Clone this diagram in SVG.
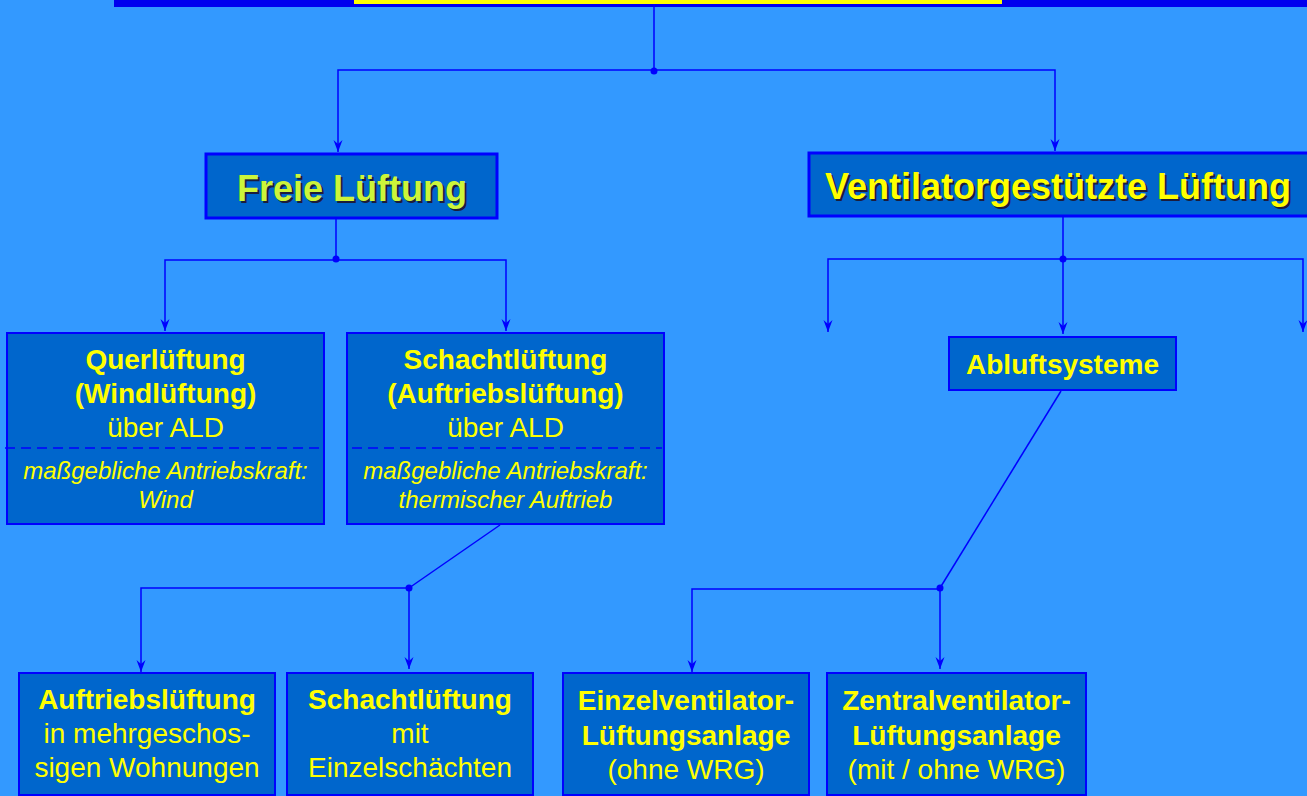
<svg xmlns="http://www.w3.org/2000/svg" width="1307" height="796" viewBox="0 0 1307 796">
<style>
.box{fill:#0066CC;stroke:#0000FF;stroke-width:2}
.big{fill:#0066CC;stroke:#0000FF;stroke-width:3}
.con{fill:none;stroke:#0000FF;stroke-width:1.5}
.dash{fill:none;stroke:#0000FF;stroke-width:1.5;stroke-dasharray:10 6}
text{font-family:"Liberation Sans",Arial,sans-serif;text-anchor:middle;fill:#FFFF00}
.b{font-weight:bold;font-size:28px}
.r{font-size:28px}
.i{font-style:italic;font-size:24px}
.h{font-weight:bold;font-size:36px}
.sh{fill:#1C1C3C}
</style>
<defs>
<marker id="arr" markerWidth="13" markerHeight="10" refX="12" refY="5" orient="auto-start-reverse" markerUnits="userSpaceOnUse" viewBox="0 0 13 10">
<path d="M0,0.5 L12,5 L0,9.5 L4,5 Z" fill="#0000FF"/>
</marker>
</defs>
<rect x="0" y="0" width="1307" height="796" fill="#3399FF"/>
<g id="topbar">
<rect x="114" y="0" width="1193" height="7" fill="#0000EE"/>
<rect x="354" y="0" width="648" height="4" fill="#FFFF00"/>
</g>
<g id="connectors">
<path class="con" d="M654,4 V71"/>
<path class="con" d="M338,152 V70 H1055 V151" marker-start="url(#arr)" marker-end="url(#arr)"/>
<circle cx="654" cy="71" r="3.5" fill="#0000FF"/>
<path class="con" d="M336,219 V260"/>
<path class="con" d="M165,331 V260 H506 V331" marker-start="url(#arr)" marker-end="url(#arr)"/>
<circle cx="336" cy="259" r="3.5" fill="#0000FF"/>
<path class="con" d="M1063,217 V259"/>
<path class="con" d="M828,332 V259 H1303 V332" marker-start="url(#arr)" marker-end="url(#arr)"/>
<path class="con" d="M1063,259 V334" marker-end="url(#arr)"/>
<circle cx="1063" cy="259" r="3.5" fill="#0000FF"/>
<path class="con" d="M500,525 L409,588"/>
<path class="con" d="M141,672 V588 H409 V669" marker-start="url(#arr)" marker-end="url(#arr)"/>
<circle cx="409" cy="588" r="3.5" fill="#0000FF"/>
<path class="con" d="M1061,391 L940,588"/>
<path class="con" d="M692,672 V589 H940 V669" marker-start="url(#arr)" marker-end="url(#arr)"/>
<circle cx="940" cy="588" r="3.5" fill="#0000FF"/>
</g>
<g id="freie">
<rect class="big" x="206" y="154" width="291" height="64"/>
<text class="h sh" x="354" y="203">Freie Lüftung</text>
<text class="h" x="352" y="201" style="fill:#CCF53A">Freie Lüftung</text>
</g>
<g id="ventilator">
<rect class="big" x="809" y="153" width="510" height="63"/>
<text class="h sh" x="1060" y="201">Ventilatorgestützte Lüftung</text>
<text class="h" x="1058" y="199">Ventilatorgestützte Lüftung</text>
</g>
<g id="querlueftung">
<rect class="box" x="7" y="333" width="317" height="191"/>
<path class="dash" d="M5,448 H322"/>
<text class="b" x="165.5" y="369">Querlüftung</text>
<text class="b" x="165.5" y="403">(Windlüftung)</text>
<text class="r" x="165.5" y="437">über ALD</text>
<text class="i" x="165.5" y="479">maßgebliche Antriebskraft:</text>
<text class="i" x="165.5" y="508">Wind</text>
</g>
<g id="schachtlueftung">
<rect class="box" x="347" y="333" width="317" height="191"/>
<path class="dash" d="M352,448 H662"/>
<text class="b" x="505.5" y="369">Schachtlüftung</text>
<text class="b" x="505.5" y="403">(Auftriebslüftung)</text>
<text class="r" x="505.5" y="437">über ALD</text>
<text class="i" x="505.5" y="479">maßgebliche Antriebskraft:</text>
<text class="i" x="505.5" y="508">thermischer Auftrieb</text>
</g>
<g id="abluftsysteme">
<rect class="box" x="949" y="337" width="227" height="53"/>
<text class="b" x="1062.5" y="374">Abluftsysteme</text>
</g>
<g id="auftrieb">
<rect class="box" x="19" y="673" width="256" height="122"/>
<text class="b" x="147" y="709">Auftriebslüftung</text>
<text class="r" x="147" y="743">in mehrgeschos-</text>
<text class="r" x="147" y="777">sigen Wohnungen</text>
</g>
<g id="schacht-einzel">
<rect class="box" x="287" y="673" width="246" height="122"/>
<text class="b" x="410" y="709">Schachtlüftung</text>
<text class="r" x="410" y="743">mit</text>
<text class="r" x="410" y="777">Einzelschächten</text>
</g>
<g id="einzelventilator">
<rect class="box" x="563" y="673" width="246" height="122"/>
<text class="b" x="686" y="710">Einzelventilator-</text>
<text class="b" x="686" y="745">Lüftungsanlage</text>
<text class="r" x="686" y="779">(ohne WRG)</text>
</g>
<g id="zentralventilator">
<rect class="box" x="827" y="673" width="259" height="122"/>
<text class="b" x="956.5" y="710">Zentralventilator-</text>
<text class="b" x="956.5" y="745">Lüftungsanlage</text>
<text class="r" x="956.5" y="779">(mit / ohne WRG)</text>
</g>
</svg>
